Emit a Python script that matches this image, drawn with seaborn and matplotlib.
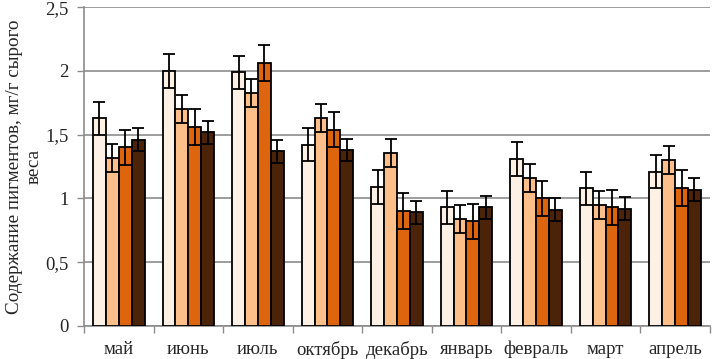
import numpy as np
import pandas as pd
import matplotlib
matplotlib.use("Agg")
import matplotlib.pyplot as plt
import seaborn as sns

months = ["май", "июнь", "июль", "октябрь", "декабрь", "январь", "февраль", "март", "апрель"]
series_names = ["s1", "s2", "s3", "s4"]
s1 = [1.63, 2.00, 1.99, 1.42, 1.09, 0.93, 1.31, 1.08, 1.21]
s2 = [1.32, 1.70, 1.83, 1.63, 1.36, 0.84, 1.16, 0.95, 1.30]
s3 = [1.40, 1.56, 2.06, 1.54, 0.90, 0.82, 1.00, 0.93, 1.08]
s4 = [1.46, 1.52, 1.37, 1.38, 0.89, 0.93, 0.91, 0.92, 1.07]
e1 = [0.13] * 9
e2 = [0.11] * 9
e3 = [0.14] * 9
e4 = [0.09] * 9
colors = ["#FDF0E4", "#FDBF8A", "#DC650E", "#4A2308"]
ytick_labels = ["0", "0,5", "1", "1,5", "2", "2,5"]

vals = [s1, s2, s3, s4]
errs = [e1, e2, e3, e4]
rows = []
for name, v in zip(series_names, vals):
    for m, x in zip(months, v):
        rows.append({"month": m, "series": name, "value": x})
df = pd.DataFrame(rows)

sns.set_style("white")
plt.rcParams["font.family"] = ["Liberation Serif", "DejaVu Serif"]

fig = plt.figure(figsize=(7.12, 3.59), dpi=100)
ax = fig.add_axes([0.118, 0.092, 0.879, 0.888])

sns.barplot(data=df, x="month", y="value", hue="series", palette=colors,
            saturation=1, errorbar=None, width=0.74, edgecolor="black", linewidth=1.3,
            legend=False, ax=ax, zorder=3)

for cont, err in zip(ax.containers, errs):
    xs = [p.get_x() + p.get_width() / 2 for p in cont.patches]
    hs = [p.get_height() for p in cont.patches]
    ax.errorbar(xs, hs, yerr=err, fmt="none", ecolor="black", elinewidth=1.3,
                capsize=4.3, capthick=1.3, zorder=4)

ax.set_ylim(0, 2.5)
ax.set_xlim(-0.5, len(months) - 0.5)
ax.set_yticks(np.arange(0, 2.51, 0.5))
ax.set_yticklabels(ytick_labels, fontsize=13.5)
ax.yaxis.grid(True, color="#8c8c8c", linewidth=1.2, zorder=0)
ax.set_axisbelow(True)
ax.tick_params(axis="y", left=True, length=5, color="#8c8c8c", width=1, pad=6)
ax.tick_params(axis="x", bottom=False, labelsize=13.5, pad=7)
ax.set_xticks(np.arange(-0.5, len(months) - 0.4, 1.0), minor=True)
ax.tick_params(axis="x", which="minor", bottom=True, length=5, color="#8c8c8c", width=1)
ax.set_xlabel("")
ax.set_ylabel("Содержание пигментов, мг/г сырого\nвеса", fontsize=13.8, labelpad=2)
for s in ["top", "right"]:
    ax.spines[s].set_visible(False)
for s in ["left", "bottom"]:
    ax.spines[s].set_color("#8c8c8c")
    ax.spines[s].set_linewidth(1.2)

fig.savefig("out.png", dpi=100)
